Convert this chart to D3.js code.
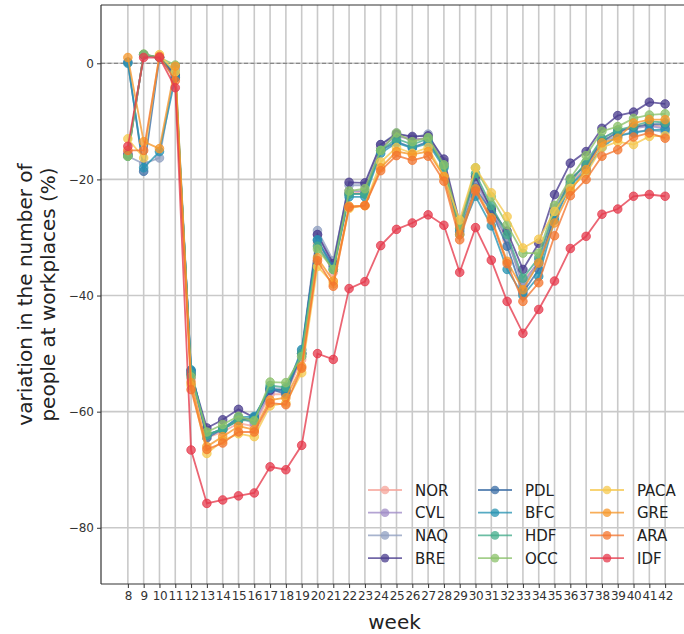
<!DOCTYPE html>
<html>
<head>
<meta charset="utf-8">
<script src="https://cdn.jsdelivr.net/npm/d3@7"></script>
<style>
  body { margin: 0; background: #fff; }
  svg { display: block; font-family: "DejaVu Sans", sans-serif; }
</style>
</head>
<body>
<svg id="chart" width="684" height="634"></svg>
<script>
const weeks = [8,9,10,11,12,13,14,15,16,17,18,19,20,21,22,23,24,25,26,27,28,29,30,31,32,33,34,35,36,37,38,39,40,41,42];
const regions = ["NOR","CVL","NAQ","BRE","PDL","BFC","HDF","OCC","PACA","GRE","ARA","IDF"];
const regionColors = ["#f6a49a","#9f8bc6","#8f9fc0","#4a3c8e","#3a6ca4","#2793b2","#43ac8b","#8bc26a","#f6c84e","#f6972a","#f3762f","#e63a4c"];
const yTicks = [0,-20,-40,-60,-80];

const NOR  = [-15.5,1.5,1.0,-2.0,-54.5,-64.5,-63.5,-62.0,-62.5,-57.0,-57.0,-51.0,-31.0,-36.0,-22.5,-22.0,-14.5,-12.5,-13.0,-13.0,-17.0,-28.0,-20.0,-25.0,-30.5,-37.3,-34.5,-26.0,-20.5,-18.0,-13.5,-12.0,-11.0,-10.5,-11.0];
const CVL  = [-15.5,1.4,1.0,-2.5,-54.0,-64.0,-63.0,-61.0,-62.0,-56.5,-56.5,-50.5,-29.5,-35.0,-22.0,-22.0,-14.5,-12.5,-13.2,-12.8,-17.2,-28.0,-20.5,-25.5,-30.0,-38.0,-34.0,-25.0,-20.0,-17.5,-13.0,-11.5,-11.2,-10.8,-11.2];
const NAQ  = [-16.0,-17.3,-16.3,-1.0,-53.0,-64.0,-63.0,-61.0,-61.5,-56.0,-56.0,-49.5,-28.8,-34.0,-21.0,-21.0,-14.0,-12.0,-12.8,-12.2,-17.0,-28.5,-20.0,-25.0,-30.0,-38.5,-34.5,-26.5,-21.0,-18.0,-13.5,-12.5,-11.8,-11.5,-11.8];
const BRE  = [-15.8,1.5,1.0,-2.0,-53.5,-62.8,-61.4,-59.6,-61.0,-56.3,-56.2,-50.0,-29.5,-34.5,-20.5,-20.6,-14.0,-12.2,-12.6,-12.5,-16.5,-27.5,-19.5,-25.2,-28.9,-35.5,-31.0,-22.6,-17.2,-15.2,-11.2,-9.0,-8.4,-6.7,-7.0];
const PDL  = [0.2,-18.6,1.0,-2.5,-53.0,-64.5,-63.0,-61.5,-61.0,-56.0,-57.0,-50.0,-30.5,-35.0,-22.5,-22.5,-15.0,-13.5,-14.5,-13.5,-17.5,-29.0,-21.5,-25.5,-31.5,-39.5,-35.5,-26.0,-20.0,-17.5,-13.5,-11.8,-11.0,-10.5,-10.5];
const BFC  = [0.0,-18.0,-15.2,-2.5,-52.8,-64.0,-63.0,-61.0,-60.8,-56.0,-56.5,-49.3,-30.4,-35.5,-23.0,-23.0,-15.5,-13.7,-14.6,-13.8,-18.0,-29.5,-22.9,-28.0,-35.5,-40.0,-36.7,-27.0,-21.0,-18.5,-14.5,-12.5,-12.0,-11.5,-11.4];
const HDF  = [-16.0,1.5,1.0,-1.5,-53.5,-64.0,-63.0,-61.5,-61.5,-55.5,-55.8,-50.0,-31.5,-35.5,-22.5,-22.5,-15.0,-13.0,-14.0,-13.0,-17.8,-28.5,-19.0,-24.5,-29.5,-37.0,-33.5,-25.5,-20.5,-17.0,-13.0,-11.5,-10.8,-10.0,-10.2];
const OCC  = [-16.0,1.6,1.0,-0.3,-54.0,-63.5,-62.2,-60.8,-61.6,-54.9,-55.0,-50.5,-32.0,-35.5,-22.0,-21.6,-15.0,-12.0,-13.5,-12.8,-17.5,-28.0,-18.0,-23.0,-27.8,-32.7,-32.7,-24.5,-19.8,-15.9,-11.7,-10.9,-9.5,-8.9,-8.7];
const PACA = [-13.0,-16.3,1.5,-1.5,-55.5,-67.2,-65.0,-63.8,-64.3,-59.0,-58.5,-53.3,-35.0,-38.0,-25.0,-24.5,-17.0,-14.5,-15.5,-14.5,-19.5,-27.0,-18.0,-22.3,-26.4,-31.8,-30.3,-25.5,-21.5,-19.0,-14.5,-13.5,-14.0,-12.6,-12.5];
const GRE  = [1.0,-13.5,-14.7,-0.5,-55.0,-66.0,-64.3,-62.5,-63.1,-58.0,-57.6,-52.2,-33.5,-37.5,-24.6,-24.5,-18.0,-15.2,-15.7,-15.2,-19.5,-29.5,-21.6,-26.6,-34.1,-39.0,-34.4,-27.5,-22.0,-18.3,-13.7,-12.9,-10.3,-9.7,-9.7];
const ARA  = [-15.0,-15.0,1.2,-3.0,-56.2,-66.5,-65.4,-63.5,-63.5,-58.5,-58.8,-52.5,-34.0,-38.4,-24.8,-24.5,-18.5,-15.9,-16.7,-16.0,-20.3,-30.4,-22.0,-27.0,-34.5,-41.0,-37.8,-29.7,-22.8,-20.0,-16.0,-14.9,-12.7,-12.0,-12.9];
const IDF  = [-14.3,1.0,1.0,-4.2,-66.6,-75.8,-75.2,-74.5,-74.0,-69.5,-70.0,-65.8,-50.0,-51.0,-38.8,-37.6,-31.4,-28.6,-27.5,-26.1,-27.9,-36.0,-28.3,-33.9,-41.0,-46.5,-42.4,-37.5,-31.9,-29.8,-26.0,-25.1,-22.9,-22.6,-22.9];

const seriesValues = [NOR,CVL,NAQ,BRE,PDL,BFC,HDF,OCC,PACA,GRE,ARA,IDF];

const svg = d3.select("#chart");
const L = 101, R = 692, T = 5, B = 584;
const x = d3.scaleLinear().domain([6.3, 43.7]).range([L, R]);
const y = d3.scaleLinear().domain([-89.68, 10.04]).range([B, T]);

// grid
const grid = svg.append("g");
grid.selectAll("line.v").data(weeks).join("line")
  .attr("x1", d => x(d)).attr("x2", d => x(d)).attr("y1", T).attr("y2", B)
  .attr("stroke", "#c9c9c9").attr("stroke-width", 1.6);
grid.selectAll("line.h").data(yTicks).join("line")
  .attr("x1", L).attr("x2", R).attr("y1", d => y(d)).attr("y2", d => y(d))
  .attr("stroke", "#c9c9c9").attr("stroke-width", 1.6);

// zero dashed line
svg.append("line").attr("x1", L).attr("x2", R).attr("y1", y(0)).attr("y2", y(0))
  .attr("stroke", "#777").attr("stroke-width", 1).attr("stroke-dasharray", "4,2.5");

// series
const line = d3.line().x((d,i) => x(weeks[i])).y(d => y(d));
seriesValues.forEach((vals, k) => {
  const g = svg.append("g");
  g.append("path").datum(vals).attr("d", line)
    .attr("fill", "none").attr("stroke", regionColors[k]).attr("stroke-width", 1.8)
    .attr("stroke-opacity", 0.78);
  g.selectAll("circle").data(vals).join("circle")
    .attr("cx", (d,i) => x(weeks[i])).attr("cy", d => y(d)).attr("r", 4.3)
    .attr("fill", regionColors[k]).attr("fill-opacity", 0.75)
    .attr("stroke", regionColors[k]).attr("stroke-opacity", 0.75).attr("stroke-width", 1);
});

// axes
const xAxis = d3.axisBottom(x).tickValues(weeks).tickFormat(d3.format("d")).tickSizeOuter(0).tickSize(4).tickPadding(3);
const gx = svg.append("g").attr("transform", `translate(0,${B})`).call(xAxis);
gx.select(".domain").remove();
gx.selectAll("text").attr("font-size", 12).attr("fill", "#333").attr("font-family", "DejaVu Sans").attr("letter-spacing", -0.3);
gx.selectAll(".tick line").attr("stroke", "#333");

const yAxis = d3.axisLeft(y).tickValues(yTicks).tickSizeOuter(0).tickSize(4).tickPadding(3);
const gy = svg.append("g").attr("transform", `translate(${L},0)`).call(yAxis);
gy.select(".domain").remove();
gy.selectAll("text").attr("font-size", 12).attr("fill", "#333").attr("font-family", "DejaVu Sans");
gy.selectAll(".tick line").attr("stroke", "#333");

// spines
svg.append("line").attr("x1", L).attr("x2", L).attr("y1", T).attr("y2", B).attr("stroke", "#333").attr("stroke-width", 1.2);
svg.append("line").attr("x1", L).attr("x2", R).attr("y1", B).attr("y2", B).attr("stroke", "#333").attr("stroke-width", 1.2);
svg.append("line").attr("x1", L).attr("x2", R).attr("y1", T).attr("y2", T).attr("stroke", "#333").attr("stroke-width", 1.2);
svg.append("line").attr("x1", R).attr("x2", R).attr("y1", T).attr("y2", B).attr("stroke", "#333").attr("stroke-width", 1.2);

// labels
svg.append("text").attr("x", (L + R) / 2 - 2).attr("y", 629).attr("text-anchor", "middle")
  .attr("font-size", 20).attr("fill", "#222").text("week");
const yl = svg.append("text").attr("transform", `translate(32,${(T + B) / 2}) rotate(-90)`)
  .attr("text-anchor", "middle").attr("font-size", 20).attr("fill", "#222");
yl.append("tspan").attr("x", 0).attr("dy", 0).text("variation in the number of");
yl.append("tspan").attr("x", 0).attr("dy", 23).text("people at workplaces (%)");

// legend
const legCols = [368, 478, 590];
const legRow0 = 490, legRowH = 22.7;
regions.forEach((name, k) => {
  const col = Math.floor(k / 4), row = k % 4;
  const lx = legCols[col], ly = legRow0 + row * legRowH;
  const g = svg.append("g");
  g.append("line").attr("x1", lx).attr("x2", lx + 34).attr("y1", ly).attr("y2", ly)
    .attr("stroke", regionColors[k]).attr("stroke-width", 1.8).attr("stroke-opacity", 0.78);
  g.append("circle").attr("cx", lx + 17).attr("cy", ly).attr("r", 4.3)
    .attr("fill", regionColors[k]).attr("fill-opacity", 0.75);
  g.append("text").attr("x", lx + 47).attr("y", ly + 5.5).attr("font-size", 15)
    .attr("fill", "#222").text(name);
});
</script>
</body>
</html>
